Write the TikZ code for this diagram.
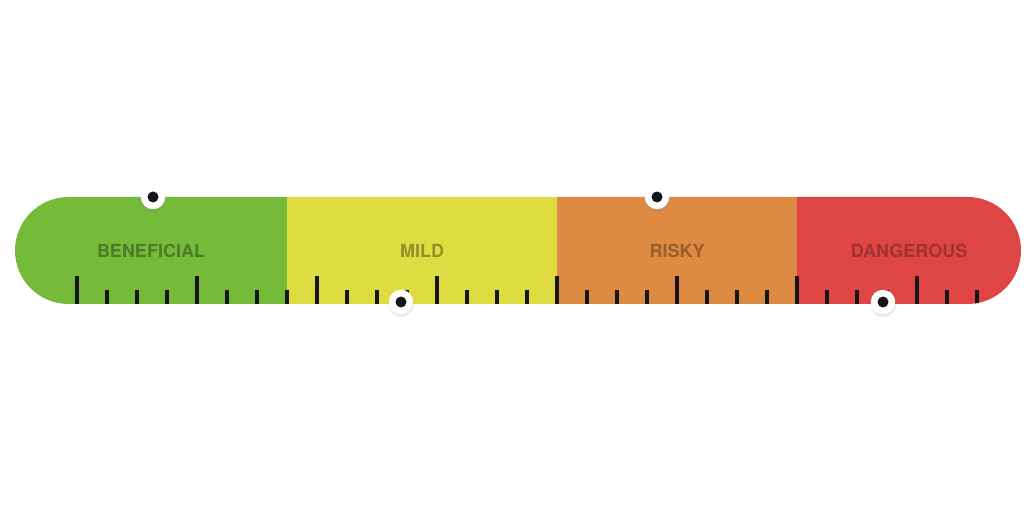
\documentclass[tikz,border=0pt]{standalone}
\usepackage{fontspec}
\setmainfont{TeX Gyre Heros}
\usetikzlibrary{shadows}
\definecolor{segG}{HTML}{76BA3A}
\definecolor{segY}{HTML}{DFDC42}
\definecolor{segO}{HTML}{DE8A43}
\definecolor{segR}{HTML}{E04545}
\definecolor{tickc}{HTML}{15161A}
\tikzset{
  seglabel/.style={font=\bfseries\fontsize{18pt}{20pt}\selectfont, inner sep=0pt, anchor=center},
  majortick/.style={draw=tickc, line width=3.4pt},
  minortick/.style={draw=tickc, line width=3.4pt},
  markerbase/.style={circle, fill=white, minimum size=24.5pt, inner sep=0pt,
     circular drop shadow={shadow xshift=0pt, shadow yshift=-1.5pt, shadow scale=1.12, opacity=0.18}},
  markerdot/.style={circle, fill=tickc, minimum size=11pt, inner sep=0pt}
}
\begin{document}
\begin{tikzpicture}[x=1pt,y=-1pt]
\useasboundingbox (0,0) rectangle (1036,510);
\fill[white] (0,0) rectangle (1036,510);
\begin{scope}
  \clip[rounded corners=53.5pt] (15,197) rectangle (1021,304);
  \fill[segG] (10,190) rectangle (287,310);
  \fill[segY] (287,190) rectangle (557,310);
  \fill[segO] (557,190) rectangle (797,310);
  \fill[segR] (797,190) rectangle (1030,310);
  \foreach \x in {77,197,317,437,557,677,797,917}
    \draw[majortick] (\x,276) -- (\x,306);
  \foreach \x in {107,137,167,227,257,287,347,377,407,467,497,527,587,617,647,707,737,767,827,857,887,947,977}
    \draw[minortick] (\x,290) -- (\x,306);
\end{scope}
\node[seglabel, text=segG!66!black] (lb) at (151,251) {BENEFICIAL};
\node[seglabel, text=segY!66!black] (lm) at (422,251) {MILD};
\node[seglabel, text=segO!68!black] (lr) at (677,251) {RISKY};
\node[seglabel, text=segR!72!black] (ld) at (909,251) {DANGEROUS};
\node[markerbase] (m1) at (153,197) {};
\node[markerdot] (d1) at (m1.center) {};
\node[markerbase] (m2) at (401,302) {};
\node[markerdot] (d2) at (m2.center) {};
\node[markerbase] (m3) at (657,197) {};
\node[markerdot] (d3) at (m3.center) {};
\node[markerbase] (m4) at (883,302) {};
\node[markerdot] (d4) at (m4.center) {};
\end{tikzpicture}
\end{document}
